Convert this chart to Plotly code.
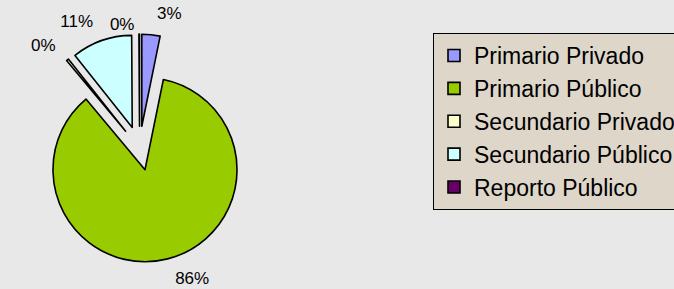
import plotly.graph_objects as go

categories = ["Primario Privado", "Primario Público", "Secundario Privado",
              "Secundario Público", "Reporto Público"]
values = [3.2, 85.8, 0.4, 10.6, 0.1]
colors = ["#9999FF", "#99CC00", "#FFFFCC", "#CCFFFF", "#660066"]

FONT = "Arial, Liberation Sans, sans-serif"
PCT = "%{percent:.0%}"

# pie geometry (paper fractions)
CX, CY = 0.2071, 0.487
HW, HH = 0.1693, 0.395          # half sizes of the drawn pie domain
LBL = 1.10                      # label ring is slightly larger

n = len(values)
# the last (tiny) slice sits at 12 o'clock: keep its label on the inner ring
inner_tpl = ["" for _ in range(n - 1)] + [PCT]
outer_tpl = [PCT for _ in range(n - 1)] + [""]

fig = go.Figure()
fig.add_trace(go.Pie(
    labels=categories,
    values=values,
    sort=False,
    direction="clockwise",
    rotation=0,
    pull=[0.24] * n,
    marker=dict(colors=colors, line=dict(color="black", width=1.6)),
    texttemplate=inner_tpl,
    textposition="outside",
    textfont=dict(family=FONT, size=17, color="black"),
    hoverinfo="label+percent",
    domain=dict(x=[CX - HW, CX + HW], y=[CY - HH, CY + HH]),
))
# transparent twin pie, used only to place the percentage labels a bit further out
fig.add_trace(go.Pie(
    labels=categories,
    values=values,
    sort=False,
    direction="clockwise",
    rotation=0,
    pull=[0.24] * n,
    marker=dict(colors=["rgba(0,0,0,0)"] * n, line=dict(width=0)),
    texttemplate=outer_tpl,
    textposition="outside",
    textfont=dict(family=FONT, size=17, color="black"),
    hoverinfo="skip",
    showlegend=False,
    domain=dict(x=[CX - HW * LBL, CX + HW * LBL], y=[CY - HH * LBL, CY + HH * LBL]),
))

fig.update_layout(
    width=674, height=289,
    margin=dict(l=0, r=0, t=0, b=0, autoexpand=False),
    paper_bgcolor="#e8e8e8",
    plot_bgcolor="#e8e8e8",
    font=dict(family=FONT, color="black"),
    showlegend=True,
    legend=dict(
        x=433 / 674, xanchor="left",
        y=1 - 33 / 289, yanchor="top",
        bgcolor="#ded6c8",
        bordercolor="black", borderwidth=1,
        font=dict(family=FONT, size=23, color="black"),
        itemwidth=30,
    ),
)

fig.write_html("out.html",
               config={"displayModeBar": False},
               post_script="document.body.style.margin='0';"
                           "document.body.style.overflow='hidden';")
